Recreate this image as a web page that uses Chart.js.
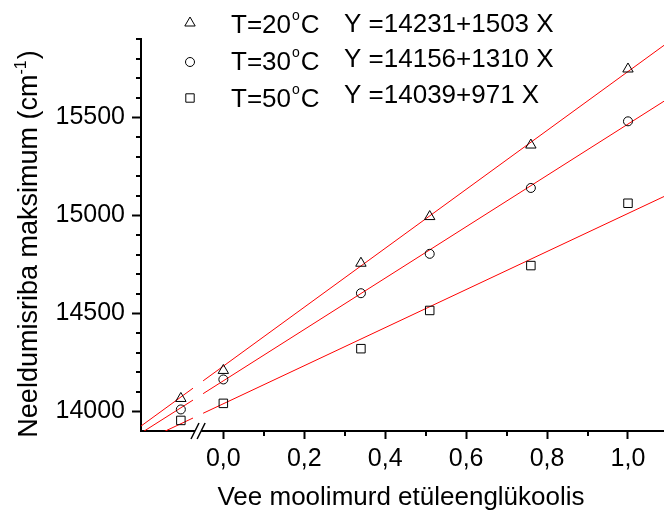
<!DOCTYPE html>
<html>
<head>
<meta charset="utf-8">
<script src="https://cdn.jsdelivr.net/npm/chart.js@4.4.1/dist/chart.umd.min.js"></script>
<style>
  html, body { margin: 0; padding: 0; background: #fff; }
  #wrap { width: 664px; height: 513px; }
</style>
</head>
<body>
<div id="wrap"><canvas id="chart" width="664" height="513"></canvas></div>
<script>
const temperatures = ['20', '30', '50'];
const markerStyles = ['triangle', 'circle', 'rect'];
const intercepts = [14231, 14156, 14039];
const slopes = [1503, 1310, 971];
const waterFractions = [-0.105, 0, 0.34, 0.51, 0.76, 1.0];
const maxima20 = [14066, 14209, 14756, 14994, 15359, 15747];
const maxima30 = [14010, 14163, 14603, 14804, 15140, 15480];
const maxima50 = [13954, 14041, 14320, 14515, 14744, 15062];
const xTicks = [0, 0.2, 0.4, 0.6, 0.8, 1.0];
const xMinorTicks = [0.1, 0.3, 0.5, 0.7, 0.9];
const yTicks = [14000, 14500, 15000, 15500];
const xRange = [-0.2035, 1.089];
const yRange = [13900, 15900];
const breakGap = [-0.075, -0.05];

const FONT = '"Liberation Sans", Arial, Helvetica, sans-serif';
const series = [maxima20, maxima30, maxima50];

function fitLine(i) {
    const f = (x) => intercepts[i] + slopes[i] * x;
    return [
        { x: xRange[0], y: f(xRange[0]) },
        { x: breakGap[0], y: f(breakGap[0]) },
        { x: (breakGap[0] + breakGap[1]) / 2, y: null },
        { x: breakGap[1], y: f(breakGap[1]) },
        { x: xRange[1], y: f(xRange[1]) },
    ];
}

const lineSets = series.map((_, i) => ({
    data: fitLine(i),
    showLine: true,
    spanGaps: false,
    borderColor: '#ff0000',
    borderWidth: 1,
    pointRadius: 0,
    order: 2,
}));

const markerSets = series.map((values, i) => ({
    data: values.map((y, j) => ({ x: waterFractions[j], y })),
    showLine: false,
    pointStyle: markerStyles[i],
    pointRadius: markerStyles[i] === 'circle' ? 4.5 : 6,
    pointBorderColor: '#000',
    pointBackgroundColor: 'rgba(0,0,0,0)',
    pointBorderWidth: 1,
    order: 1,
}));

function drawMarker(ctx, style, x, y) {
    ctx.beginPath();
    if (style === 'triangle') {
        const r = 6;
        ctx.moveTo(x, y - r);
        ctx.lineTo(x + r * Math.sin(Math.PI * 2 / 3), y + r / 2);
        ctx.lineTo(x - r * Math.sin(Math.PI * 2 / 3), y + r / 2);
        ctx.closePath();
    } else if (style === 'circle') {
        ctx.arc(x, y, 4.5, 0, Math.PI * 2);
    } else {
        ctx.rect(x - 4.2, y - 4.2, 8.4, 8.4);
    }
    ctx.stroke();
}

function noPadding(scale) {
    scale.paddingLeft = 0;
    scale.paddingRight = 0;
    scale.paddingTop = 0;
    scale.paddingBottom = 0;
}

const decorations = {
    id: 'decorations',
    afterDraw(chart) {
        const ctx = chart.ctx;
        const xs = chart.scales.x;
        const ys = chart.scales.y;
        const area = chart.chartArea;
        ctx.save();
        ctx.strokeStyle = '#000';
        ctx.fillStyle = '#000';

        // minor ticks
        ctx.lineWidth = 2;
        ctx.beginPath();
        xMinorTicks.forEach((v) => {
            const px = Math.round(xs.getPixelForValue(v));
            ctx.moveTo(px, area.bottom);
            ctx.lineTo(px, area.bottom + 5);
        });
        for (let v = yRange[0] + 100; v <= yRange[1]; v += 100) {
            if (yTicks.includes(v)) continue;
            const py = Math.round(ys.getPixelForValue(v));
            ctx.moveTo(area.left, py);
            ctx.lineTo(area.left - 5, py);
        }
        ctx.stroke();

        // axis break
        const b0 = xs.getPixelForValue(breakGap[0]) + 2;
        const b1 = xs.getPixelForValue(breakGap[1]) - 2;
        ctx.fillStyle = '#fff';
        ctx.fillRect(b0, area.bottom - 3, b1 - b0, 6);
        ctx.fillStyle = '#000';
        ctx.lineWidth = 1.5;
        ctx.beginPath();
        ctx.moveTo(b0 - 4, area.bottom + 8);
        ctx.lineTo(b0 + 4, area.bottom - 8);
        ctx.moveTo(b1 - 4, area.bottom + 8);
        ctx.lineTo(b1 + 4, area.bottom - 8);
        ctx.stroke();

        // legend
        const symbolRows = [23, 62, 98];
        const labelBase = [33, 70, 107];
        const eqBase = [32, 67, 103];
        ctx.lineWidth = 1;
        temperatures.forEach((t, i) => {
            drawMarker(ctx, markerStyles[i], 190, symbolRows[i]);
            ctx.textAlign = 'left';
            ctx.textBaseline = 'alphabetic';
            ctx.font = '26px ' + FONT;
            const head = 'T=' + t;
            ctx.fillText(head, 231, labelBase[i]);
            let x = 231 + ctx.measureText(head).width + 1;
            ctx.font = '14px ' + FONT;
            ctx.fillText('o', x, labelBase[i] - 13);
            x += ctx.measureText('o').width + 1;
            ctx.font = '26px ' + FONT;
            ctx.fillText('C', x, labelBase[i]);
            ctx.fillText('Y =' + intercepts[i] + '+' + slopes[i] + ' X', 344, eqBase[i]);
        });

        // x title
        ctx.font = '26px ' + FONT;
        ctx.textAlign = 'center';
        ctx.fillText('Vee moolimurd etüleenglükoolis', 401, 505);

        // y title with superscript
        const main = 'Neeldumisriba maksimum (cm';
        const sup = '-1';
        const close = ')';
        ctx.font = '27px ' + FONT;
        const wMain = ctx.measureText(main).width;
        const wClose = ctx.measureText(close).width;
        ctx.font = '16px ' + FONT;
        const wSup = ctx.measureText(sup).width;
        const total = wMain + wSup + wClose + 1;
        ctx.translate(37, 244);
        ctx.rotate(-Math.PI / 2);
        ctx.textAlign = 'left';
        let sx = -total / 2;
        ctx.font = '27px ' + FONT;
        ctx.fillText(main, sx, 0);
        sx += wMain;
        ctx.font = '16px ' + FONT;
        ctx.fillText(sup, sx, -11);
        sx += wSup + 1;
        ctx.font = '27px ' + FONT;
        ctx.fillText(close, sx, 0);
        ctx.restore();
    },
};

new Chart(document.getElementById('chart'), {
    type: 'scatter',
    data: { datasets: [...lineSets, ...markerSets] },
    options: {
        responsive: false,
        animation: false,
        layout: { autoPadding: false, padding: { top: 39, right: 0, left: 0, bottom: 0 } },
        plugins: { legend: { display: false }, tooltip: { enabled: false } },
        scales: {
            x: {
                type: 'linear',
                min: xRange[0],
                max: xRange[1],
                afterBuildTicks: (scale) => { scale.ticks = xTicks.map((value) => ({ value })); },
                afterFit: (scale) => { scale.height = 82; noPadding(scale); },
                ticks: {
                    color: '#000',
                    font: { family: FONT, size: 25 },
                    padding: 5,
                    maxRotation: 0,
                    autoSkip: false,
                    callback: (value) => Number(value).toFixed(1).replace('.', ','),
                },
                grid: { display: true, drawOnChartArea: false, drawTicks: true, tickLength: 8, tickWidth: 2, tickColor: '#000' },
                border: { display: true, color: '#000', width: 2 },
            },
            y: {
                type: 'linear',
                min: yRange[0],
                max: yRange[1],
                afterBuildTicks: (scale) => { scale.ticks = yTicks.map((value) => ({ value })); },
                afterFit: (scale) => { scale.width = 141; noPadding(scale); },
                ticks: {
                    color: '#000',
                    font: { family: FONT, size: 25 },
                    padding: 7,
                    autoSkip: false,
                    callback: (value) => String(value),
                },
                grid: { display: true, drawOnChartArea: false, drawTicks: true, tickLength: 9, tickWidth: 2, tickColor: '#000' },
                border: { display: true, color: '#000', width: 2 },
            },
        },
    },
    plugins: [decorations],
});
</script>
</body>
</html>
